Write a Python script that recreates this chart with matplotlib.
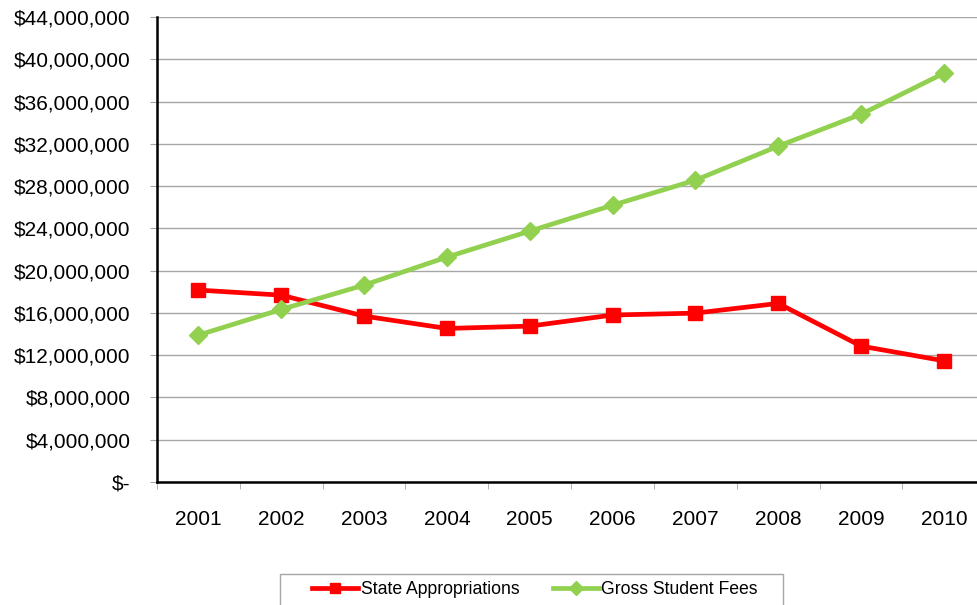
import numpy as np
import matplotlib.pyplot as plt
from matplotlib.patches import Rectangle
from matplotlib.ticker import FuncFormatter

plt.rcParams['font.family'] = ['Liberation Sans', 'DejaVu Sans']

years = ['2001', '2002', '2003', '2004', '2005', '2006', '2007', '2008', '2009', '2010']
state_approp = [18.16, 17.68, 15.7, 14.53, 14.75, 15.8, 15.98, 16.9, 12.86, 11.47]
student_fees = [13.9, 16.33, 18.63, 21.28, 23.74, 26.19, 28.56, 31.78, 34.8, 38.68]

state_approp = np.array(state_approp) * 1e6
student_fees = np.array(student_fees) * 1e6

W, H = 978, 605
fig = plt.figure(figsize=(W / 100, H / 100), dpi=100)
ax = fig.add_axes([0.1605, 0.2033, 0.847, 0.7686])

x = np.arange(len(years))
ax.plot(x, state_approp, color='#FF0000', lw=3.4, marker='s', ms=10.5,
        label='State Appropriations', zorder=3)
ax.plot(x, student_fees, color='#92D050', lw=3.4, marker='D', ms=9.5,
        label='Gross Student Fees', zorder=3)

ax.set_xlim(-0.5, len(years) - 0.5)
ax.set_ylim(0, 44e6)
ax.set_yticks(np.arange(0, 44e6 + 1, 4e6))


def money(v, pos):
    if v == 0:
        return '$-'
    return '${:,.0f}'.format(v)


ax.yaxis.set_major_formatter(FuncFormatter(money))
ax.grid(axis='y', color='#A6A6A6', lw=1)
ax.set_axisbelow(True)

ax.set_xticks(x)
ax.set_xticklabels(years)
ax.set_xticks(np.arange(-0.5, len(years)), minor=True)
ax.tick_params(axis='x', which='major', length=0, pad=20, labelsize=15)
ax.tick_params(axis='x', which='minor', length=5, color='#A6A6A6')
ax.tick_params(axis='y', length=5, color='#A6A6A6', pad=14, labelsize=15)

for s in ['top', 'right']:
    ax.spines[s].set_visible(False)
ax.spines['left'].set_linewidth(1.8)
ax.spines['bottom'].set_linewidth(1.8)

# legend box (frame drawn separately to get the wide side padding)
fig.patches.append(Rectangle((280 / W, -0.01), 503 / W, 0.01 + 1 - 574 / H,
                             transform=fig.transFigure, fill=False,
                             edgecolor='#A6A6A6', lw=1))
fig.legend(loc='center', bbox_to_anchor=(535 / W, 1 - 590 / H), ncol=2,
           fontsize=12.7, frameon=False, handlelength=2.6, columnspacing=1.9,
           borderpad=0, handletextpad=0.15, markerscale=0.75, borderaxespad=0)

fig.savefig('out.png', dpi=100)
